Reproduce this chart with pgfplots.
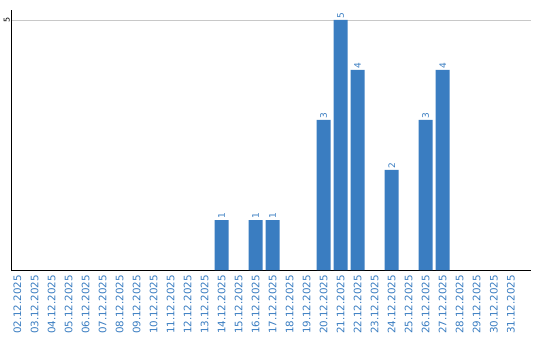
\documentclass[border=0pt]{standalone}
\usepackage{fontspec}
\setmainfont{DejaVu Sans}
\usepackage{pgfplots}
\pgfplotsset{compat=1.18}
\definecolor{barblue}{HTML}{3A7DC1}
\definecolor{gridgray}{HTML}{C8C8C8}
\begin{document}
\begin{tikzpicture}[x=1pt,y=1pt]
\path[use as bounding box] (0,0) rectangle (540,340);
\begin{axis}[
  at={(11pt,70pt)}, anchor=south west,
  scale only axis, width=520pt, height=260pt,
  xmin=-0.382, xmax=30.19, ymin=0, ymax=5.2,
  axis x line=bottom, axis y line=left,
  axis line style={black, line width=1pt, -},
  xtick={0,...,29},
  xticklabels={02.12.2025,03.12.2025,04.12.2025,05.12.2025,06.12.2025,07.12.2025,08.12.2025,09.12.2025,10.12.2025,11.12.2025,12.12.2025,13.12.2025,14.12.2025,15.12.2025,16.12.2025,17.12.2025,18.12.2025,19.12.2025,20.12.2025,21.12.2025,22.12.2025,23.12.2025,24.12.2025,25.12.2025,26.12.2025,27.12.2025,28.12.2025,29.12.2025,30.12.2025,31.12.2025},
  ytick={5},
  major tick length=0pt,
  ymajorgrids, grid style={gridgray, line width=0.8pt},
  /pgf/number format/assume math mode=true,
  xticklabel style={rotate=90, anchor=east, font=\fontsize{10.3}{11}\selectfont, text=barblue, xshift=-4pt, inner sep=1pt, outer sep=0pt},
  yticklabel style={rotate=90, anchor=south, font=\fontsize{8}{9}\selectfont, text=black, inner sep=1pt},
  clip=false,
  nodes near coords,
  every node near coord/.append style={rotate=90, anchor=west, font=\fontsize{9}{10}\selectfont, text=barblue, inner sep=1pt},
]
\addplot[ybar, bar width=14pt, fill=barblue, draw=none] coordinates {
  (12,1) (14,1) (15,1) (18,3) (19,5) (20,4) (22,2) (24,3) (25,4)
};
\end{axis}
\end{tikzpicture}
\end{document}
